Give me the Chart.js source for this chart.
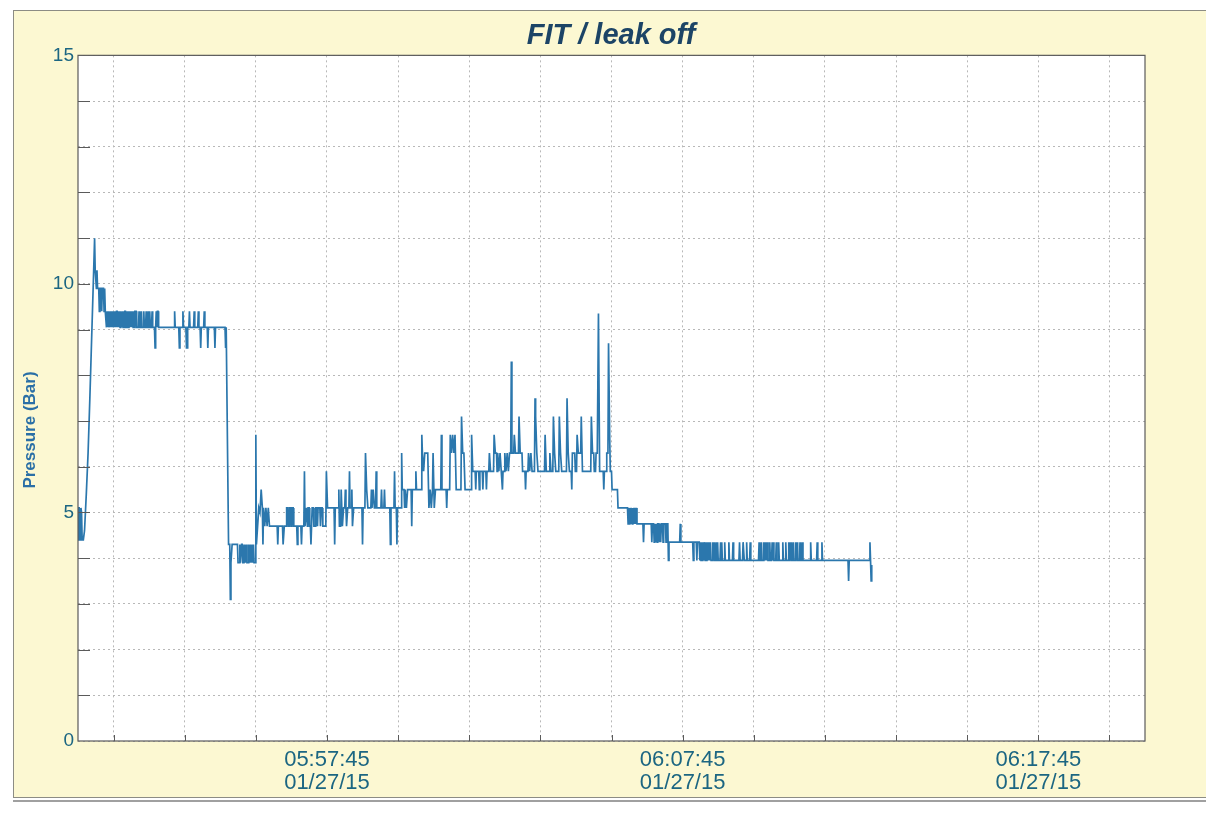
<!DOCTYPE html>
<html>
<head>
<meta charset="utf-8">
<title>FIT / leak off</title>
<script src="https://cdn.jsdelivr.net/npm/chart.js@4.4.1/dist/chart.umd.min.js"></script>
<style>
  html, body { margin: 0; padding: 0; background: #ffffff; }
  #wrap { width: 1206px; height: 813px; }
</style>
</head>
<body>
<div id="wrap"><canvas id="fitChart" width="1206" height="813"></canvas></div>
<script>
// time axis: seconds after 05:50:45, gridline every 2 min, label every 10 min
const axisStart = 0;
const axisEnd = 1800;
const xLabelAt = [420, 1020, 1620];
const xLabelTime = ["05:57:45", "06:07:45", "06:17:45"];
const xLabelDate = ["01/27/15", "01/27/15", "01/27/15"];
const yLabels = [0, 5, 10, 15];

// pressure log [seconds, bar]
const readings = [
  [0,4.4],[1,5.1],[2,5.1],[3,4.4],[4,4.4],[5,5.1],[6,5.0],[7,4.4],[9,4.4],[11,4.6],[14,5.4],[17,6.3],[20,7.5],[23,8.8],[26,10.1],[28,11.0],
  [29,10.3],[30,10.3],[31,9.9],[32,10.3],[33,9.9],[35,9.9],[36,9.4],[37,9.9],[39,9.9],[40,9.4],[41,9.9],[43,9.9],[44,9.4],[45,9.9],[46,9.4],[47,9.4],
  [48,9.05],[49,9.4],[50,9.05],[51,9.4],[52,9.4],[53,9.05],[54,9.4],[55,9.05],[56,9.4],[57,9.05],[58,9.4],[59,9.4],[60,9.05],[61,9.4],[62,9.05],[63,9.4],
  [64,9.05],[65,9.4],[66,9.4],[67,9.05],[68,9.4],[69,9.05],[70,9.4],[71,9.05],[72,9.4],[73,9.05],[74,9.05],[75,9.4],[76,9.05],[77,9.4],[78,9.05],[79,9.4],
  [80,9.4],[81,9.05],[82,9.4],[83,9.05],[84,9.4],[85,9.05],[86,9.4],[87,9.05],[88,9.4],[89,9.05],[90,9.4],[91,9.05],[92,9.4],[93,9.05],[94,9.4],[95,9.05],
  [96,9.4],[98,9.4],[99,9.05],[102,9.05],[103,9.4],[104,9.05],[106,9.05],[107,9.4],[108,9.05],[110,9.05],[111,9.4],[112,9.05],[114,9.05],[115,9.4],[116,9.05],
  [118,9.05],[119,9.4],[120,9.05],[121,9.4],[122,9.05],[124,9.05],[125,9.4],[126,9.05],[129,9.05],[130,8.6],[131,9.05],[132,9.4],[133,9.05],[134,9.4],[135,9.4],[136,9.05],
  [162,9.05],[163,9.4],[164,9.05],[170,9.05],[171,8.6],[172,9.05],[176,9.05],[177,9.4],[178,9.05],[182,9.05],[183,8.6],[184,8.6],[185,9.05],[187,9.05],[188,9.4],[189,9.05],
  [195,9.05],[196,9.4],[197,9.05],[202,9.05],[203,9.4],[204,9.05],[206,9.05],[207,8.6],[208,9.05],[212,9.05],[213,9.4],[214,9.05],[218,9.05],[219,8.6],[220,9.05],
  [230,9.05],[231,8.6],[232,9.05],[248,9.05],[249,8.6],[250,9.05],[251,9.05],[254,4.3],[256,4.3],[257,3.1],[258,3.9],[260,4.3],
  [269,4.3],[270,3.9],[272,3.9],[273,4.3],[274,3.9],[276,4.3],[277,4.3],[278,3.9],[280,3.9],[281,4.3],[282,3.9],[284,4.3],[285,3.9],[287,3.9],[288,4.3],[289,3.9],
  [291,4.3],[292,3.9],[294,4.3],[295,3.9],[296,4.3],[297,3.9],[299,3.9],[300,6.7],[301,4.3],[303,4.7],[305,5.1],[307,5.0],[309,5.5],[311,5.1],[312,4.3],[313,5.1],
  [315,4.7],[317,5.1],[319,4.7],[321,5.1],[323,4.7],[336,4.7],[337,4.3],[338,4.7],[345,4.7],[346,4.3],[348,4.7],[351,4.7],[352,5.1],[354,5.1],[355,4.7],[356,4.7],
  [357,5.1],[359,5.1],[360,4.7],[361,5.1],[363,5.1],[364,4.7],[369,4.7],[370,4.3],[371,4.7],[376,4.7],[377,4.3],[378,4.7],[381,4.7],[382,5.9],[383,4.7],[384,4.7],
  [385,5.1],[386,5.1],[387,4.7],[388,5.1],[390,5.1],[391,4.7],[392,4.7],[393,4.3],[394,4.7],[395,5.1],[397,5.1],[398,4.7],[400,4.7],[401,5.1],[403,5.1],[404,4.7],
  [405,5.1],[408,5.1],[409,4.7],[410,5.1],[412,5.1],[413,4.7],[418,4.7],[419,5.9],[421,5.1],[432,5.1],[433,4.3],[434,5.1],[439,5.1],[440,5.5],[441,4.7],[443,4.7],
  [444,5.5],[446,4.7],[448,5.1],[450,5.1],[451,5.5],[452,5.1],[453,4.7],[455,5.1],[457,5.1],[458,5.9],[459,5.1],[461,5.1],[462,5.5],[463,4.7],[465,5.1],[479,5.1],
  [480,4.3],[481,5.1],[484,5.1],[485,6.3],[487,5.5],[489,5.1],[494,5.1],[495,5.5],[496,5.1],[498,5.5],[500,5.1],[502,5.1],[503,5.9],[504,5.1],[511,5.1],[512,5.5],
  [513,5.1],[516,5.1],[517,5.5],[518,5.1],[526,5.1],[527,4.3],[528,5.1],[533,5.1],[534,5.9],[535,5.1],[537,5.1],[538,4.3],[539,5.1],[545,5.1],[546,6.3],[547,5.5],
  [550,5.5],[551,5.1],[552,5.5],[554,5.1],[556,5.5],[558,5.5],[562,5.5],[563,4.7],[564,5.5],[569,5.5],[570,5.9],[571,5.5],[579,5.5],[580,6.7],[581,6.3],[583,5.9],
  [585,6.3],[590,6.3],[592,5.1],[594,5.5],[596,5.1],[598,5.5],[599,6.3],[601,5.1],[603,5.5],[612,5.5],[613,6.7],[614,5.5],[621,5.5],[622,5.1],[623,5.5],[627,5.5],
  [628,6.7],[630,6.3],[632,6.7],[634,6.3],[636,6.7],[638,5.5],[646,5.5],[647,7.1],[649,6.3],[651,6.3],[653,5.5],[663,5.5],[664,6.7],[666,5.9],[670,5.9],[671,5.5],
  [672,5.9],[676,5.9],[677,5.5],[678,5.9],[682,5.9],[683,5.5],[684,5.9],[688,5.9],[689,5.5],[690,5.9],[693,5.9],[694,6.3],[696,5.9],[701,5.9],[702,6.7],[704,6.3],
  [706,6.3],[707,5.9],[708,6.3],[710,5.9],[712,6.3],[714,5.9],[715,5.9],[716,5.5],[717,5.9],[719,5.9],[720,6.3],[722,5.9],[724,6.3],[726,5.9],[728,6.3],[730,6.3],
  [731,8.3],[732,6.3],[735,6.3],[736,6.7],[738,6.3],[743,6.3],[744,7.1],[746,6.3],[749,6.3],[750,5.9],[754,5.9],[755,5.5],[756,5.9],[759,5.9],[760,6.3],[762,5.9],
  [764,6.3],[766,5.9],[770,5.9],[771,7.5],[772,7.1],[774,6.3],[776,5.9],[787,5.9],[788,6.7],[790,5.9],[795,5.9],[796,6.3],[798,5.9],[801,5.9],[802,7.1],[804,6.3],
  [806,5.9],[811,5.9],[812,7.1],[814,6.3],[816,5.9],[824,5.9],[825,7.5],[827,6.3],[829,5.9],[832,5.9],[833,5.5],[834,6.3],[838,6.3],[839,5.9],[841,5.9],[842,6.7],
  [844,6.3],[848,6.3],[849,7.1],[851,5.9],[865,5.9],[866,7.1],[868,6.3],[870,6.3],[871,5.9],[873,5.9],[874,6.3],[876,6.3],[878,9.35],[880,5.9],[886,5.9],[887,5.5],
  [888,5.9],[891,5.9],[892,6.3],[894,6.3],[895,8.7],[897,6.6],[898,5.9],[900,5.9],[901,5.5],[910,5.5],[911,5.1],[927,5.1],
  [928,4.75],[929,5.1],[930,4.75],[931,5.1],[932,4.75],[933,5.1],[934,5.1],[935,4.75],[936,5.1],[937,4.75],[938,5.1],[939,4.75],[940,5.1],[941,4.75],[942,5.1],[943,4.75],
  [953,4.75],[954,4.35],[955,4.75],[967,4.75],[968,4.35],[969,4.75],[971,4.75],[972,4.35],[973,4.75],[975,4.35],[976,4.75],[977,4.35],[978,4.75],[980,4.75],[981,4.35],
  [982,4.75],[983,4.35],[984,4.75],[986,4.75],[987,4.35],[988,4.75],[991,4.75],[992,4.35],[993,4.75],[995,4.75],[996,3.95],[997,4.35],[1015,4.35],[1016,4.75],[1017,4.35],
  [1037,4.35],[1038,3.95],[1039,4.35],[1043,4.35],[1044,3.95],[1045,4.35],[1048,4.35],[1049,3.95],[1050,4.35],[1051,3.95],[1052,4.35],[1053,3.95],[1054,4.35],[1055,3.95],
  [1056,3.95],[1057,4.35],[1058,3.95],[1059,4.35],[1060,3.95],[1061,4.35],[1062,3.95],[1063,4.35],[1064,3.95],[1065,4.35],[1066,3.95],[1067,4.35],[1068,3.95],[1070,3.95],
  [1071,4.35],[1072,3.95],[1073,4.35],[1074,3.95],[1076,3.95],[1077,4.35],[1078,3.95],[1079,4.35],[1080,3.95],[1083,3.95],[1084,4.35],[1085,3.95],[1086,4.35],[1087,3.95],
  [1090,3.95],[1091,4.35],[1092,3.95],[1097,3.95],[1098,4.35],[1099,3.95],[1104,3.95],[1105,4.35],[1106,3.95],[1115,3.95],[1116,4.35],[1117,3.95],[1121,3.95],[1122,4.35],
  [1123,4.35],[1124,3.95],[1127,3.95],[1128,4.35],[1129,3.95],[1133,3.95],[1134,4.35],[1135,3.95],[1148,3.95],[1149,4.35],[1150,3.95],[1152,3.95],[1153,4.35],[1154,3.95],
  [1156,3.95],[1157,4.35],[1158,3.95],[1159,4.35],[1160,3.95],[1161,4.35],[1162,3.95],[1163,4.35],[1164,3.95],[1166,3.95],[1167,4.35],[1168,3.95],[1170,3.95],[1171,4.35],
  [1172,3.95],[1173,4.35],[1174,3.95],[1177,3.95],[1178,4.35],[1179,3.95],[1181,3.95],[1182,4.35],[1183,3.95],[1188,3.95],[1189,4.35],[1190,3.95],[1193,3.95],[1194,4.35],
  [1195,3.95],[1198,3.95],[1199,4.35],[1200,3.95],[1201,4.35],[1202,3.95],[1203,4.35],[1204,3.95],[1206,3.95],[1207,4.35],[1208,3.95],[1210,3.95],[1211,4.35],[1212,3.95],
  [1213,4.35],[1214,3.95],[1217,3.95],[1218,4.35],[1219,3.95],[1221,3.95],[1222,4.35],[1223,3.95],[1235,3.95],[1236,4.35],[1237,3.95],[1246,3.95],[1247,4.35],[1248,3.95],
  [1254,3.95],[1255,4.35],[1256,3.95],[1299,3.95],[1300,3.5],[1301,3.95],[1335,3.95],[1336,4.35],[1337,3.95],[1338,3.5],[1339,3.85]
];

// gridlines every 2 minutes, starting one minute in
const gridSeconds = [];
for (let s = 60; s < axisEnd; s += 120) gridSeconds.push(s);

const tickColor = "#1c6682";
const frameColor = "#5a5a5a";

// yellow paper panel, white plot area, frame, inward tick marks, axis title
const paperPanel = {
  id: "paperPanel",
  beforeDraw(chart) {
    const { ctx, chartArea: a, width, height } = chart;
    ctx.save();
    ctx.fillStyle = "#ffffff";
    ctx.fillRect(0, 0, width, height);
    ctx.fillStyle = "#fcf8d2";
    ctx.fillRect(13, 10, width - 13, 788);
    ctx.strokeStyle = "#8c8c84";
    ctx.lineWidth = 1;
    ctx.strokeRect(13.5, 10.5, width, 787);
    ctx.fillStyle = "#a0a0a0";
    ctx.fillRect(13, 800, width - 13, 2);
    ctx.fillStyle = "#ffffff";
    ctx.fillRect(a.left, a.top, a.right - a.left, a.bottom - a.top);
    ctx.restore();
  },
  afterDraw(chart) {
    const { ctx, chartArea: a, scales } = chart;
    ctx.save();
    ctx.strokeStyle = frameColor;
    ctx.lineWidth = 1.2;
    ctx.strokeRect(a.left, a.top, a.right - a.left, a.bottom - a.top);
    ctx.lineWidth = 1;
    ctx.beginPath();
    for (let v = 1; v < 15; v++) {
      const y = Math.round(scales.y.getPixelForValue(v)) + 0.5;
      ctx.moveTo(a.left, y);
      ctx.lineTo(a.left + 12, y);
    }
    gridSeconds.forEach((s) => {
      const x = Math.round(scales.x.getPixelForValue(s)) + 0.5;
      ctx.moveTo(x, a.bottom);
      ctx.lineTo(x, a.bottom - 6);
    });
    ctx.stroke();

    ctx.translate(30, 430);
    ctx.rotate(-Math.PI / 2);
    ctx.fillStyle = "#2a6fa6";
    ctx.font = "bold 17px 'Liberation Sans', Arial, sans-serif";
    ctx.textAlign = "center";
    ctx.textBaseline = "middle";
    ctx.fillText("Pressure (Bar)", 0, 0);
    ctx.restore();
  },
};

const ctx = document.getElementById("fitChart").getContext("2d");
new Chart(ctx, {
  type: "line",
  data: {
    datasets: [
      {
        label: "Pressure",
        data: readings,
        borderColor: "#2b77ad",
        borderWidth: 1.7,
        pointRadius: 0,
        tension: 0,
        fill: false,
      },
    ],
  },
  options: {
    responsive: false,
    animation: false,
    layout: { padding: { left: 20, right: 4, top: 0, bottom: 0 } },
    scales: {
      x: {
        type: "linear",
        min: axisStart,
        max: axisEnd,
        afterBuildTicks(scale) {
          scale.ticks = gridSeconds.map((s) => ({ value: s }));
        },
        afterFit(scale) {
          scale.height = 72;
        },
        grid: { color: "#b8b8b8", lineWidth: 1, drawTicks: false },
        border: { display: false, dash: [2, 3] },
        ticks: {
          autoSkip: false,
          maxRotation: 0,
          padding: 7,
          color: tickColor,
          font: { family: "'Liberation Sans', Arial, sans-serif", size: 22, lineHeight: 1.05 },
          callback(value) {
            const i = xLabelAt.indexOf(value);
            return i >= 0 ? [xLabelTime[i], xLabelDate[i]] : "";
          },
        },
      },
      y: {
        min: 0,
        max: 15,
        afterFit(scale) {
          scale.width = 58;
        },
        grid: { color: "#b8b8b8", lineWidth: 1, drawTicks: false },
        border: { display: false, dash: [2, 3] },
        ticks: {
          stepSize: 1,
          padding: 4,
          color: tickColor,
          font: { family: "'Liberation Sans', Arial, sans-serif", size: 19 },
          callback(value) {
            return yLabels.includes(value) ? String(value) : "";
          },
        },
      },
      yRight: {
        position: "right",
        afterFit(scale) {
          scale.width = 57;
        },
        grid: { display: false },
        border: { display: false },
        ticks: { display: false },
      },
    },
    plugins: {
      legend: { display: false },
      tooltip: { enabled: false },
      title: {
        display: true,
        text: "FIT / leak off",
        color: "#1c4466",
        padding: { top: 19, bottom: 3 },
        font: { family: "'Liberation Sans', Arial, sans-serif", size: 29, weight: "bold", style: "italic", lineHeight: 1.15 },
      },
    },
  },
  plugins: [paperPanel],
});
</script>
</body>
</html>
